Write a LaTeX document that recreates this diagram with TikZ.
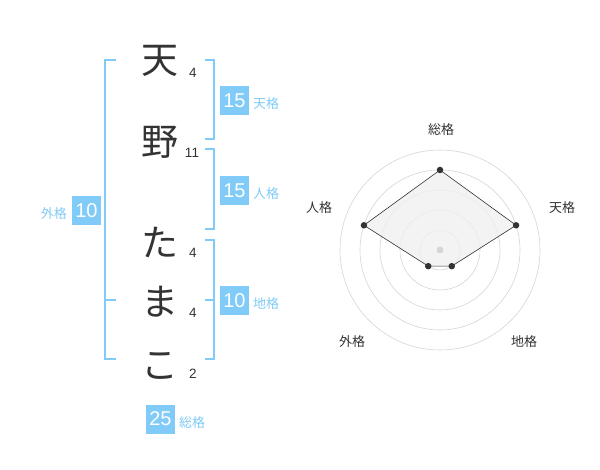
\documentclass[tikz,border=0pt]{standalone}
\usepackage{fontspec}
\setmainfont{Liberation Sans}
\newfontfamily\jp{Noto Sans CJK JP}
\definecolor{sky}{HTML}{80CBF8}
\definecolor{ink}{HTML}{333333}
\definecolor{ring}{HTML}{D6D6D6}
\begin{document}
\begin{tikzpicture}[x=1pt,y=-1pt,
  namechar/.style={font=\jp\fontsize{37}{37}\selectfont, text=ink, inner sep=0pt},
  strokes/.style={font=\fontsize{13.5}{13.5}\selectfont, text=ink, inner sep=0pt},
  scorebox/.style={fill=sky, text=white, minimum width=29pt, minimum height=29pt, inner sep=0pt, font=\fontsize{20}{20}\selectfont},
  kaku/.style={font=\jp\fontsize{13}{13}\selectfont, text=sky, inner sep=0pt},
  bracket/.style={draw=sky, line width=2pt},
  axislabel/.style={font=\jp\fontsize{13}{13}\selectfont, text=ink, inner sep=0pt},
  ringline/.style={draw=ring, line width=0.6pt},
  vertex/.style={circle, fill=ink, minimum size=6.5pt, inner sep=0pt}]
\useasboundingbox (0,0) rectangle (600,470);
\fill[white] (0,0) rectangle (600,470);

% name characters
\node[namechar] (c1) at (160,61) {天};
\node[namechar] (c2) at (160,142) {野};
\node[namechar] (c3) at (160,242) {た};
\node[namechar] (c4) at (160,302) {ま};
\node[namechar] (c5) at (160,366) {こ};
% stroke counts
\node[strokes] (s1) at (193,73) {4};
\node[strokes] (s2) at (192,153) {11};
\node[strokes] (s3) at (193,253) {4};
\node[strokes] (s4) at (193,313) {4};
\node[strokes] (s5) at (193,374) {2};

% brackets
\coordinate (lt) at (116,60);
\coordinate (lm) at (116,300);
\coordinate (lb) at (116,359);
\draw[bracket] (lt) -- ++(-11,0) |- (lb);
\draw[bracket] (105,300) -- (lm);

\coordinate (r1t) at (205,60);
\coordinate (r1b) at (205,139);
\draw[bracket] (r1t) -- ++(9,0) |- (r1b);
\coordinate (r2t) at (205,149);
\coordinate (r2b) at (205,229);
\draw[bracket] (r2t) -- ++(9,0) |- (r2b);
\coordinate (r3t) at (205,240);
\coordinate (r3m) at (205,300);
\coordinate (r3b) at (205,359);
\draw[bracket] (r3t) -- ++(9,0) |- (r3b);
\draw[bracket] (214,300) -- (r3m);

% score boxes
\node[scorebox] (b1) at (234.5,100.5) {15};
\node[kaku, anchor=west] (k1) at (253,104) {天格};
\node[scorebox] (b2) at (234.5,190.5) {15};
\node[kaku, anchor=west] (k2) at (253,194) {人格};
\node[scorebox] (b3) at (234.5,300.5) {10};
\node[kaku, anchor=west] (k3) at (253,304) {地格};
\node[scorebox] (b4) at (86.5,210.5) {10};
\node[kaku, anchor=east] (k4) at (67,214) {外格};
\node[scorebox] (b5) at (160.5,419) {25};
\node[kaku, anchor=west] (k5) at (179,423) {総格};

% radar chart
\coordinate (O) at (440,250);
\foreach \r in {20,40,60,80,100} \draw[ringline] (O) circle[radius=\r];
\path (440,170) coordinate (pS);
\path (440,250) ++(-18:80) coordinate (pT);
\path (440,250) ++(54:20) coordinate (pC);
\path (440,250) ++(126:20) coordinate (pG);
\path (440,250) ++(198:80) coordinate (pJ);
\filldraw[fill=gray!12, fill opacity=0.8, draw=ink, line width=0.6pt]
  (pS) -- (pT) -- (pC) -- (pG) -- (pJ) -- cycle;
\node[circle, fill=ring, minimum size=7pt, inner sep=0pt] (ctr) at (O) {};
\node[vertex] (vS) at (pS) {};
\node[vertex] (vT) at (pT) {};
\node[vertex] (vC) at (pC) {};
\node[vertex] (vG) at (pG) {};
\node[vertex] (vJ) at (pJ) {};
\node[axislabel] (lS) at (441,130) {総格};
\node[axislabel] (lT) at (562,208) {天格};
\node[axislabel] (lJ) at (319,208) {人格};
\node[axislabel] (lG) at (352,342) {外格};
\node[axislabel] (lC) at (524,342) {地格};
\end{tikzpicture}
\end{document}
